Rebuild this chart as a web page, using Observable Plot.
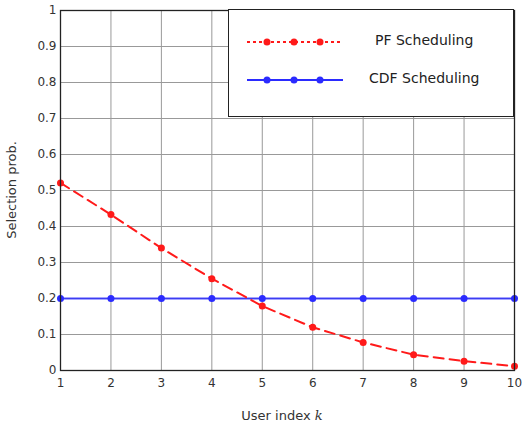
<!DOCTYPE html>
<html><head><meta charset="utf-8">
<script src="https://cdn.jsdelivr.net/npm/d3@7"></script>
<script src="https://cdn.jsdelivr.net/npm/@observablehq/plot@0.6"></script>
<style>
body{margin:0;background:#fff;}
#wrap{position:relative;width:526px;height:425px;font-family:"DejaVu Sans",sans-serif;}
#legend{position:absolute;left:228px;top:9px;width:286px;height:108px;border:1.3px solid #222;background:#fff;box-sizing:border-box;}
.lrow{position:absolute;left:0;height:20px;width:100%;}
.lrow span{position:absolute;font-size:14px;color:#222;top:0px;}
</style></head>
<body><div id="wrap"></div>
<script>
const users = [1,2,3,4,5,6,7,8,9,10];
const pfProb = [0.521,0.433,0.34,0.255,0.179,0.12,0.078,0.044,0.026,0.012];
const cdfProb = [0.2,0.2,0.2,0.2,0.2,0.2,0.2,0.2,0.2,0.2];
const yTicks = [0,0.1,0.2,0.3,0.4,0.5,0.6,0.7,0.8,0.9,1];
const seriesNames = ["PF Scheduling","CDF Scheduling"];
const colors = {pf:"#ff1a1a", cdf:"#2b2bff"};

const pf = users.map((u,i)=>({x:u,y:pfProb[i]}));
const cdf = users.map((u,i)=>({x:u,y:cdfProb[i]}));

const chart = Plot.plot({
  width:526, height:425,
  marginLeft:60, marginRight:12, marginTop:10, marginBottom:55,
  style:{fontFamily:"DejaVu Sans, sans-serif", fontSize:"12px", color:"#333", background:"#fff"},
  x:{domain:[1,10], ticks:users, tickFormat:d=>String(d)},
  y:{domain:[0,1], ticks:yTicks, tickFormat:d=>String(d)},
  marks:[
    Plot.gridX(users,{stroke:"#999",strokeOpacity:1,strokeWidth:1}),
    Plot.gridY(yTicks,{stroke:"#999",strokeOpacity:1,strokeWidth:1}),
    Plot.axisX(users,{tickSize:0,tickPadding:8,label:null,fill:"#333",fontSize:12}),
    Plot.axisY(yTicks,{tickSize:0,tickPadding:4,label:null,fill:"#333",fontSize:12,tickFormat:d=>String(d)}),
    Plot.line(cdf,{x:"x",y:"y",stroke:colors.cdf,strokeWidth:2,strokeOpacity:0.85}),
    Plot.dot(cdf,{x:"x",y:"y",r:3.5,fill:colors.cdf}),
    Plot.line(pf,{x:"x",y:"y",stroke:colors.pf,strokeWidth:2,strokeDasharray:"10,6"}),
    Plot.dot(pf,{x:"x",y:"y",r:3.5,fill:colors.pf}),
    Plot.frame({stroke:"#222",strokeWidth:1.3})
  ]
});
const wrap = document.getElementById("wrap");
wrap.appendChild(chart);
const svg = d3.select(chart);
svg.append("text").attr("x",282).attr("y",420).attr("text-anchor","middle")
  .attr("font-size",13).attr("fill","#333").attr("font-family","DejaVu Sans, sans-serif")
  .text("User index ").append("tspan").attr("font-style","italic").attr("font-family","DejaVu Serif, serif").text("k");
svg.append("text").attr("transform","translate(16,190) rotate(-90)").attr("text-anchor","middle")
  .attr("font-size",13).attr("fill","#333").attr("font-family","DejaVu Sans, sans-serif")
  .text("Selection prob.");

// legend
const leg = document.createElement("div"); leg.id="legend";
const rows = [
  {name:seriesNames[0], color:colors.pf, dash:"3,3", top:22, textLeft:146},
  {name:seriesNames[1], color:colors.cdf, dash:null, top:60, textLeft:140}
];
rows.forEach(r=>{
  const row = document.createElement("div"); row.className="lrow"; row.style.top=r.top+"px";
  const s = d3.create("svg").attr("width",120).attr("height",20).style("position","absolute").style("left","18px").style("top","0");
  s.append("line").attr("x1",0).attr("x2",96).attr("y1",10).attr("y2",10)
    .attr("stroke",r.color).attr("stroke-width",2).attr("stroke-dasharray",r.dash);
  [20,47,73].forEach(cx=>s.append("circle").attr("cx",cx).attr("cy",10).attr("r",3.5).attr("fill",r.color));
  row.appendChild(s.node());
  const t = document.createElement("span"); t.textContent=r.name; t.style.left=r.textLeft+"px";
  row.appendChild(t);
  leg.appendChild(row);
});
wrap.appendChild(leg);
</script></body></html>
